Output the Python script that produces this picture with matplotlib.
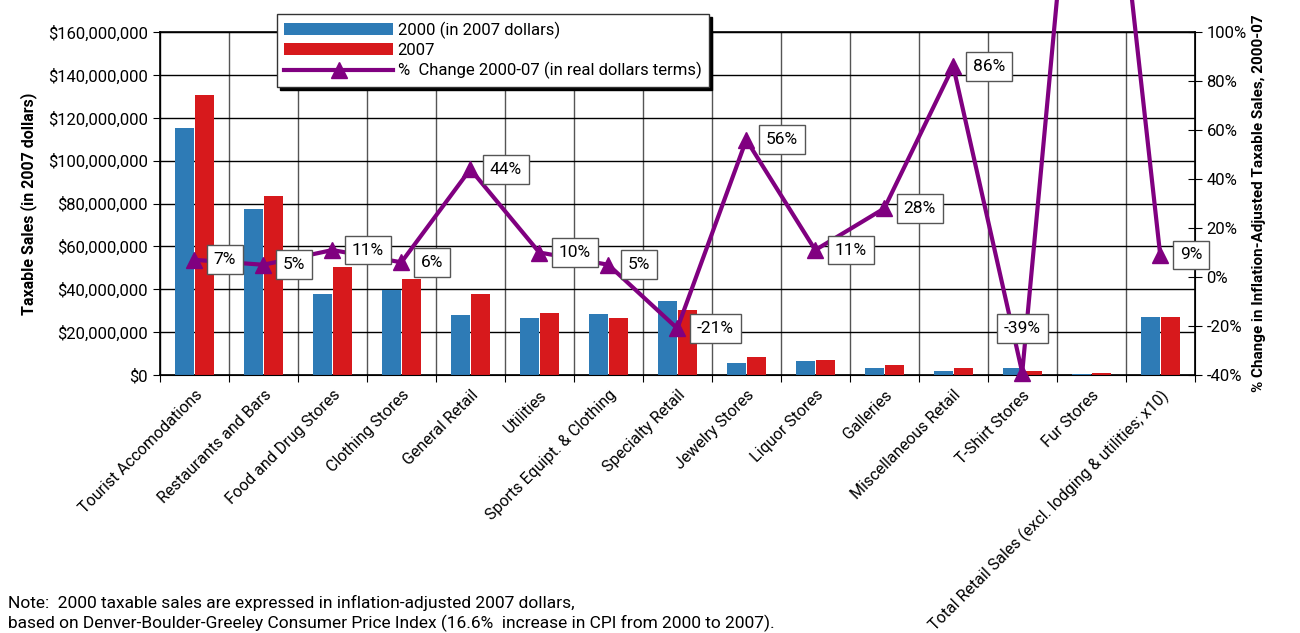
import numpy as np
import matplotlib
matplotlib.use("Agg")
import matplotlib.pyplot as plt
import matplotlib.transforms as mtransforms
from matplotlib.ticker import FuncFormatter

plt.rcParams['font.family'] = ['Roboto', 'DejaVu Sans']

categories = ["Tourist Accomodations", "Restaurants and Bars", "Food and Drug Stores",
              "Clothing Stores", "General Retail", "Utilities", "Sports Equipt. & Clothing",
              "Specialty Retail", "Jewelry Stores", "Liquor Stores", "Galleries",
              "Miscellaneous Retail", "T-Shirt Stores", "Fur Stores",
              "Total Retail Sales (excl. lodging & utilities; x10)"]
# taxable sales, millions of 2007 dollars
sales_2000 = [115.2, 77.4, 37.8, 39.6, 28.0, 26.6, 28.5, 34.5, 5.6, 6.5, 3.3, 1.9, 3.3, 0.4, 27.0]
sales_2007 = [130.6, 83.5, 50.4, 44.8, 37.8, 28.9, 26.6, 30.3, 8.4, 7.0, 4.7, 3.3, 1.9, 0.9, 27.0]
pct_change = [7, 5, 11, 6, 44, 10, 5, -21, 56, 11, 28, 86, -39, 264, 9]

blue = "#2E7BB6"
red = "#D7191C"
purple = "#800080"

fig = plt.figure(figsize=(13, 6.33), dpi=100)
ax = fig.add_axes([0.123, 0.4076, 0.796, 0.5418])
x = np.arange(len(categories))
w = 0.28
ax.bar(x - 0.145, sales_2000, w, color=blue, zorder=3, label="2000 (in 2007 dollars)")
ax.bar(x + 0.145, sales_2007, w, color=red, zorder=3, label="2007")

ax.set_xlim(-0.5, len(categories) - 0.5)
ax.set_ylim(0, 160)
ax.set_yticks(np.arange(0, 161, 20))
ax.yaxis.set_major_formatter(FuncFormatter(lambda v, p: "${:,.0f}".format(v * 1e6)))
ax.set_xticks(np.arange(-0.5, len(categories), 1))
ax.set_xticklabels([])
ax.set_xticks(x, minor=True)
ax.set_xticklabels(categories, minor=True, rotation=45, ha='right', rotation_mode='anchor', fontsize=11.5)
shift = mtransforms.ScaledTranslation(-12 / 100, 0, fig.dpi_scale_trans)
for lbl in ax.get_xticklabels(minor=True):
    lbl.set_transform(lbl.get_transform() + shift)
ax.tick_params(axis='x', which='minor', length=0, pad=9)
ax.tick_params(axis='x', which='major', length=5, direction='out')
ax.tick_params(axis='y', labelsize=12, length=5)
ax.grid(axis='y', color='black', linewidth=1, zorder=0)
ax.grid(axis='x', which='major', color='#555555', linewidth=1, zorder=0)
ax.set_ylabel("Taxable Sales (in 2007 dollars)", fontsize=11.5, fontweight='bold', labelpad=8)
for s in ax.spines.values():
    s.set_linewidth(1.2)

ax2 = ax.twinx()
ax2.set_ylim(-40, 100)
ax2.set_yticks(np.arange(-40, 101, 20))
ax2.yaxis.set_major_formatter(FuncFormatter(lambda v, p: "{:.0f}%".format(v)))
ax2.tick_params(axis='y', labelsize=12, direction='inout', length=10)
ax2.set_ylabel("% Change in Inflation-Adjusted Taxable Sales, 2000-07", fontsize=11, fontweight='bold')
ax2.plot(x, pct_change, color=purple, linewidth=3, marker='^', markersize=12,
         clip_on=False, zorder=5, label="%  Change 2000-07 (in real dollars terms)")

box = dict(boxstyle='square,pad=0.4', facecolor='white', edgecolor='#555555', linewidth=1)
for xi, v in zip(x, pct_change):
    if v > 100:
        continue
    if v == -39:
        ax2.annotate("{}%".format(v), (xi, v), xytext=(0, 32), textcoords='offset points',
                     ha='center', va='center', fontsize=12.5, bbox=box, zorder=6)
    else:
        ax2.annotate("{}%".format(v), (xi, v), xytext=(14, 0), textcoords='offset points',
                     ha='left', va='center', fontsize=12.5, bbox=box, zorder=6)

h1, l1 = ax.get_legend_handles_labels()
h2, l2 = ax2.get_legend_handles_labels()
leg = fig.legend(h1 + h2, l1 + l2, loc='upper left', bbox_to_anchor=(0.213, 0.978),
                 borderaxespad=0, fontsize=12, frameon=True, fancybox=False,
                 shadow={'color': 'black', 'alpha': 1},
                 handlelength=6.5, borderpad=0.45, labelspacing=0.25, handletextpad=0.3)
leg.get_frame().set_edgecolor('#333333')

fig.text(0.006, 0.04, "Note:  2000 taxable sales are expressed in inflation-adjusted 2007 dollars,",
         fontsize=12.5, va='baseline')
fig.text(0.006, 0.007, "based on Denver-Boulder-Greeley Consumer Price Index (16.6%  increase in CPI from 2000 to 2007).",
         fontsize=12.5, va='baseline')

fig.savefig("out.png", dpi=100)
